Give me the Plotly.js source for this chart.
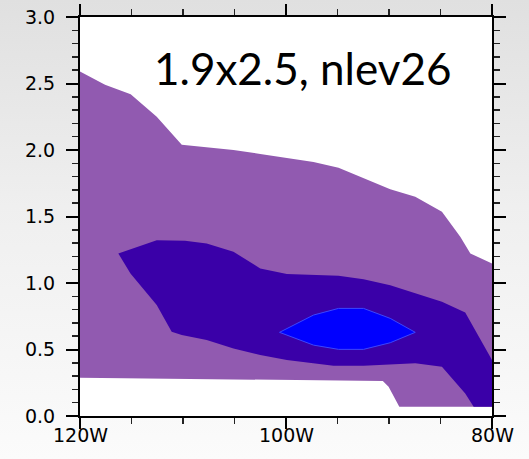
<!DOCTYPE html>
<html>
<head>
<meta charset="utf-8">
<script src="https://cdn.plot.ly/plotly-3.0.1.min.js"></script>
<style>
html, body { margin:0; padding:0; width:529px; height:459px; overflow:hidden;
  background: linear-gradient(to bottom, #e0e0e0 0%, #efefef 45%, #fbfbfb 100%); }
#chart { width:529px; height:459px; }
</style>
</head>
<body>
<div id="chart"></div>
<script>
// Outer contour region (light purple), vertices [lon, value]
const outerLon = [-120, -117.57, -115.08, -112.55, -110.12, -105.1, -102.5, -99.92, -97.33, -94.9, -92.47, -89.88, -87.45, -84.86, -83.08, -82.1, -80,
                  -80, -89.0, -90.04, -90.6, -105, -120];
const outerVal = [2.59, 2.49, 2.42, 2.25, 2.04, 2.0, 1.97, 1.94, 1.91, 1.866, 1.786, 1.705, 1.648, 1.535, 1.347, 1.222, 1.147,
                  0.07, 0.07, 0.22, 0.263, 0.275, 0.288];
// Middle contour region (dark purple)
const midLon = [-116.28, -112.55, -109.8, -107.7, -105.1, -102.5, -99.92, -94.9, -92.47, -89.88, -87.45, -84.86, -82.6, -80,
                -80, -81.78, -82.6, -84.86, -87.45, -89.88, -92.47, -95.39, -97.33, -99.92, -102.5, -105.1, -107.7, -110.12, -111.1, -112.55, -115.1];
const midVal = [1.222, 1.322, 1.317, 1.297, 1.235, 1.109, 1.067, 1.054, 1.029, 0.984, 0.922, 0.859, 0.779, 0.421,
                0.07, 0.07, 0.17, 0.371, 0.396, 0.388, 0.378, 0.378, 0.396, 0.421, 0.458, 0.508, 0.571, 0.609, 0.634, 0.834, 1.072];
// Inner contour region (blue)
const innerLon = [-100.63, -97.33, -94.9, -92.47, -89.88, -87.45, -89.88, -92.47, -94.9, -97.33];
const innerVal = [0.629, 0.759, 0.809, 0.809, 0.734, 0.629, 0.551, 0.501, 0.501, 0.533];

const xTickVals = [-120, -100, -80];
const xTickText = ['120W', '100W', '80W'];
const yTickVals = [0, 0.5, 1, 1.5, 2, 2.5, 3];
const yTickText = ['0.0', '0.5', '1.0', '1.5', '2.0', '2.5', '3.0'];
const labelText = '1.9x2.5, nlev26';

function close(a) { return a.concat([a[0]]); }

const traces = [
  {x: close(outerLon), y: close(outerVal), type:'scatter', mode:'lines', fill:'toself',
   fillcolor:'#915ab0', line:{width:0, color:'#915ab0'}, hoverinfo:'skip'},
  {x: close(midLon), y: close(midVal), type:'scatter', mode:'lines', fill:'toself',
   fillcolor:'#3a00a8', line:{width:0, color:'#3a00a8'}, hoverinfo:'skip'},
  {x: close(innerLon), y: close(innerVal), type:'scatter', mode:'lines', fill:'toself',
   fillcolor:'#0000ff', line:{width:1, color:'#3b46ff'}, hoverinfo:'skip'}
];

const tickFont = {family:'DejaVu Sans', size:19, color:'#000'};
const xLabelAnn = xTickVals.map((v, i) => ({
  text: xTickText[i], xref:'x', yref:'paper', x:v, y:-0.048, xanchor:'center', yanchor:'middle',
  showarrow:false, font:tickFont
}));
const layout = {
  width:529, height:459,
  margin:{l:80, r:37, t:17, b:43, pad:0},
  paper_bgcolor:'rgba(0,0,0,0)', plot_bgcolor:'#ffffff',
  showlegend:false,
  xaxis:{range:[-120,-80], tickvals:xTickVals, ticktext:xTickText, showticklabels:false, ticks:'outside', ticklen:11, tickwidth:2,
    tickcolor:'#000', showline:true, linecolor:'#000', linewidth:2, mirror:'allticks', showgrid:false, zeroline:false,
    minor:{dtick:5, tick0:-120, ticks:'outside', ticklen:6, tickwidth:1.5, tickcolor:'#222', showgrid:false}},
  yaxis:{range:[0,3], tickvals:yTickVals, ticktext:yTickText, ticks:'outside', ticklen:12, tickwidth:2,
    tickcolor:'#000', showline:true, linecolor:'#000', linewidth:2, mirror:'allticks', showgrid:false, zeroline:false,
    tickfont:tickFont, ticklabelstandoff:7,
    minor:{dtick:0.1, tick0:0, ticks:'outside', ticklen:6, tickwidth:1.5, tickcolor:'#222', showgrid:false}},
  annotations:[{text:labelText, xref:'paper', yref:'paper', x:0.541, y:0.872, xanchor:'center', yanchor:'middle',
    showarrow:false, font:{family:'Lato', size:44, color:'#000'}}].concat(xLabelAnn)
};
Plotly.newPlot('chart', traces, layout, {staticPlot:true, displayModeBar:false});
</script>
</body>
</html>
